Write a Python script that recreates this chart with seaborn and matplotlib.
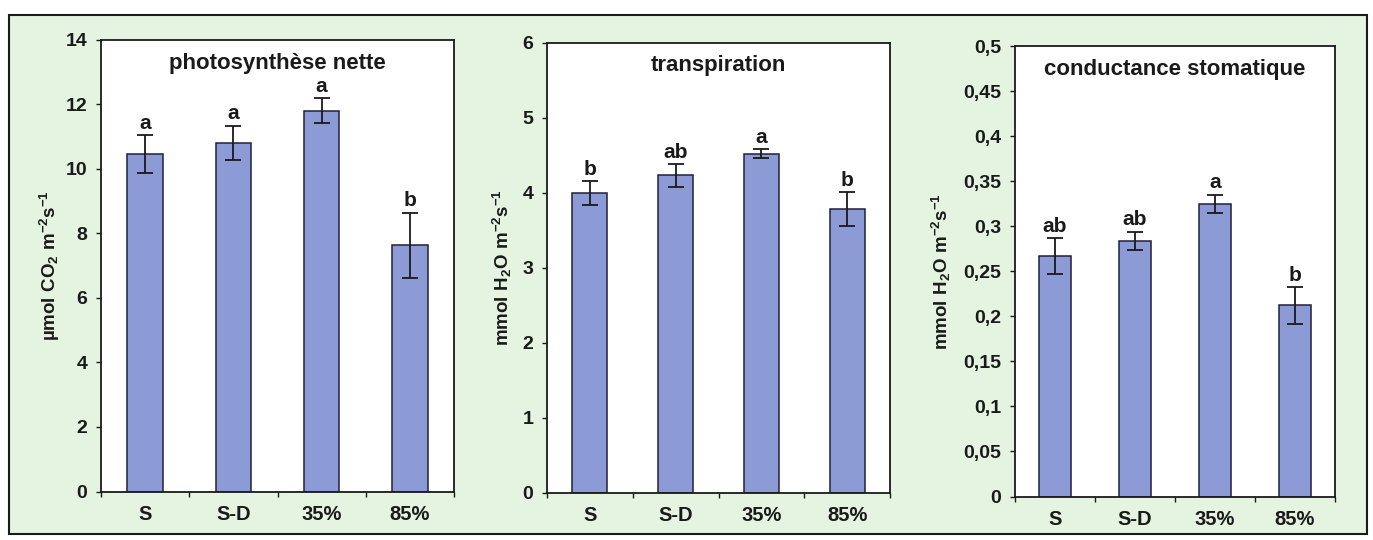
import numpy as np
import pandas as pd
import matplotlib
matplotlib.use("Agg")
import matplotlib.pyplot as plt
import seaborn as sns
from matplotlib.ticker import FixedLocator, FuncFormatter
from matplotlib.patches import Rectangle

# ---- data -------------------------------------------------------------
treatments = ["S", "S-D", "35%", "85%"]

photo_mean = [10.45, 10.80, 11.80, 7.62]
photo_err = [0.58, 0.53, 0.38, 1.02]
photo_letters = ["a", "a", "a", "b"]

transp_mean = [3.99, 4.23, 4.52, 3.78]
transp_err = [0.16, 0.15, 0.06, 0.23]
transp_letters = ["b", "ab", "a", "b"]

cond_mean = [0.267, 0.284, 0.325, 0.212]
cond_err = [0.020, 0.010, 0.010, 0.020]
cond_letters = ["ab", "ab", "a", "b"]

titles = ["photosynthèse nette", "transpiration", "conductance stomatique"]
ylabels = [r"$\mathbf{µmol\ CO_2\ m^{-2}s^{-1}}$",
           r"$\mathbf{mmol\ H_2O\ m^{-2}s^{-1}}$",
           r"$\mathbf{mmol\ H_2O\ m^{-2}s^{-1}}$"]
y_max = [14, 6, 0.5]
y_step = [2, 1, 0.05]

# ---- style ------------------------------------------------------------
sns.set_theme(style="ticks")
plt.rcParams["font.family"] = ["Liberation Sans", "DejaVu Sans"]
plt.rcParams["font.weight"] = "bold"
plt.rcParams["mathtext.fontset"] = "custom"
for key in ("rm", "bf", "it", "sf"):
    plt.rcParams[f"mathtext.{key}"] = "Liberation Sans:bold"
plt.rcParams["mathtext.default"] = "bf"

bar_color = "#8c9ad6"
bar_edge = "#20203a"
panel_bg = "#e4f4e1"
ink = "#1a1a1a"

W, H = 1373, 540
fig = plt.figure(figsize=(W / 100, H / 100), dpi=100, facecolor="white")

# outer framed panel
frame = Rectangle((9 / W, 1 - 534 / H), (1367 - 9) / W, (534 - 15) / H,
                  transform=fig.transFigure, facecolor=panel_bg,
                  edgecolor=ink, linewidth=1.5, zorder=-10)
fig.add_artist(frame)

# axes boxes in pixels: left, top, right, bottom ; ylabel anchor x
boxes = [(101, 39.5, 454, 491.5, 62),
         (547, 42.5, 890, 492.5, 514),
         (1015, 46, 1335, 496.5, 953)]

series = [(photo_mean, photo_err, photo_letters),
          (transp_mean, transp_err, transp_letters),
          (cond_mean, cond_err, cond_letters)]

bar_widths = [0.40, 0.41, 0.41]


def comma_fmt(v, _pos):
    s = f"{v:.2f}".rstrip("0").rstrip(".")
    return s.replace(".", ",")


for k, ((l, t, r, b, ylx), (mean, err, letters)) in enumerate(zip(boxes, series)):
    ax = fig.add_axes([l / W, 1 - b / H, (r - l) / W, (b - t) / H])
    ax.set_facecolor("white")
    df = pd.DataFrame({"traitement": treatments, "valeur": mean})
    sns.barplot(data=df, x="traitement", y="valeur", order=treatments,
                color=bar_color, saturation=1, edgecolor=bar_edge,
                linewidth=1.1, width=bar_widths[k], errorbar=None, ax=ax,
                zorder=2)
    ax.errorbar(np.arange(len(treatments)), mean, yerr=err, fmt="none",
                ecolor=ink, elinewidth=1.3, capsize=6, capthick=1.3, zorder=3)
    for i, (m, e, lab) in enumerate(zip(mean, err, letters)):
        ax.annotate(lab, xy=(i, m + e), xytext=(0, 4.5),
                    textcoords="offset points", ha="center", va="baseline",
                    fontsize=15, fontweight="bold", color=ink)

    ax.set_xlim(-0.5, len(treatments) - 0.5)
    ax.set_ylim(0, y_max[k])
    ticks = np.round(np.arange(0, y_max[k] + y_step[k] / 2, y_step[k]), 4)
    ax.yaxis.set_major_locator(FixedLocator(ticks))
    if k == 2:
        ax.yaxis.set_major_formatter(FuncFormatter(comma_fmt))
    else:
        ax.yaxis.set_major_formatter(FuncFormatter(lambda v, p: f"{v:.0f}"))

    ax.xaxis.set_minor_locator(FixedLocator(np.arange(-0.5, len(treatments), 1.0)))
    ax.tick_params(axis="x", which="major", length=0, pad=9.5,
                   labelsize=14.5, labelcolor=ink)
    ax.tick_params(axis="x", which="minor", direction="out", length=3.8,
                   width=1, color=ink)
    ax.tick_params(axis="y", direction="out", length=3.8, width=1,
                   pad=6, labelsize=14, labelcolor=ink, color=ink)
    for lbl in ax.get_xticklabels() + ax.get_yticklabels():
        lbl.set_fontweight("bold")

    for sp in ax.spines.values():
        sp.set_visible(True)
        sp.set_color(ink)
        sp.set_linewidth(1.3)

    ax.set_xlabel("")
    ax.set_ylabel(ylabels[k], fontsize=13.5, color=ink)
    ax.yaxis.set_label_coords((ylx - l) / (r - l), 0.5)

    ax.text(0.5, 1 - 13 / (b - t), titles[k], transform=ax.transAxes,
            ha="center", va="top", fontsize=16, fontweight="bold", color=ink)

fig.savefig("out.png", dpi=100, facecolor=fig.get_facecolor())
